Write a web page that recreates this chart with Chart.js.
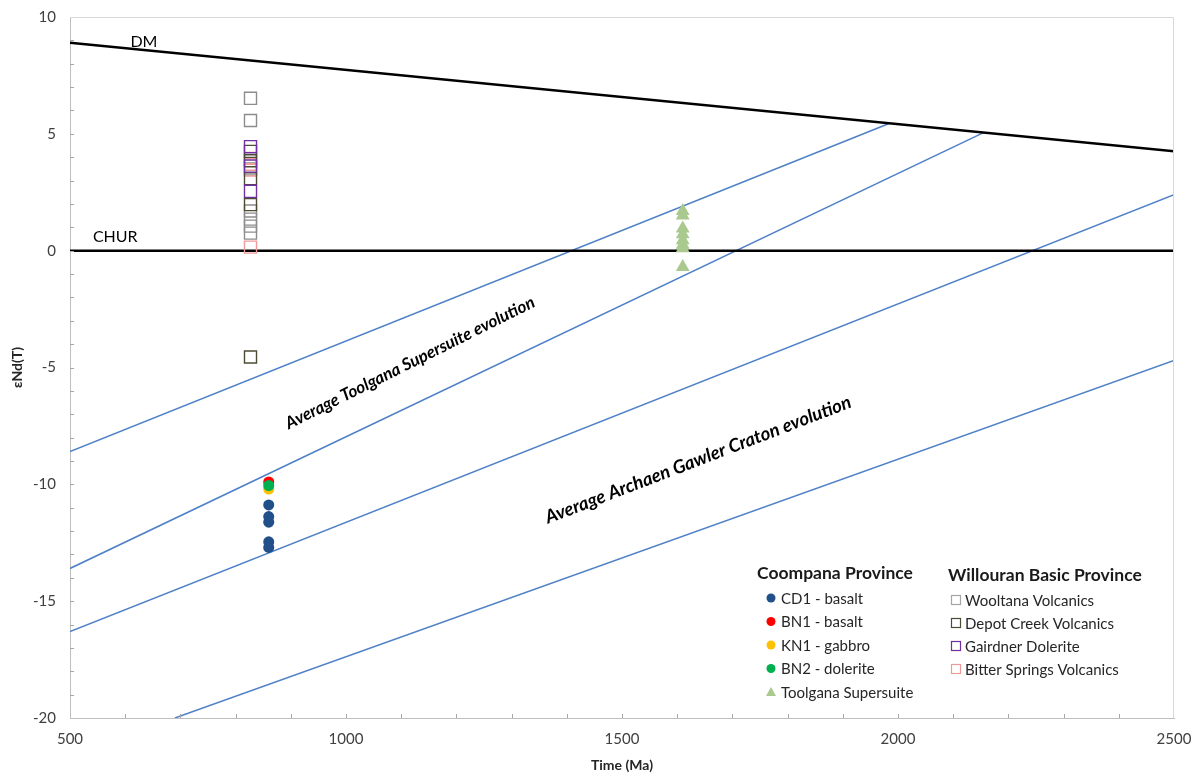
<!DOCTYPE html>
<html>
<head>
<meta charset="utf-8">
<script src="https://cdn.jsdelivr.net/npm/chart.js@4.4.1/dist/chart.umd.min.js"></script>
<style>
  html, body { margin: 0; padding: 0; background: #fff; }
</style>
</head>
<body>
<canvas id="c" width="1194" height="776"></canvas>
<script>
// reference lines (Time in Ma, epsilon Nd)
const dmX = [500, 2500];
const dmY = [8.9, 4.25];
const churX = [500, 2500];
const churY = [0, 0];

// evolution lines
const evoAX = [500, 1985];
const evoAY = [-8.6, 5.45];
const evoBX = [500, 2155];
const evoBY = [-13.6, 5.05];
const evoCX = [500, 2500];
const evoCY = [-16.3, 2.4];
const evoDX = [690, 2500];
const evoDY = [-20, -4.7];

// Willouran Basic Province samples (all ~827 Ma)
const willouranAge = 827;
const wooltana = [6.52, 5.57, 3.5, 1.7, 1.35, 1.05, 0.75];
const depotCreek = [4.25, 3.85, 3.08, 1.97, -4.55];
const gairdner = [4.45, 3.62, 2.54];
const bitterSprings = [3.95, 3.7, 3.45, 0.15];

// Coompana Province samples (~860 Ma)
const coompanaAge = 860;
const cd1 = [-10.88, -11.38, -11.62, -12.46, -12.7];
const bn1 = [-9.9];
const kn1 = [-10.2];
const bn2 = [-10.05];

// Toolgana Supersuite (~1610 Ma)
const toolganaAge = 1610;
const toolgana = [1.7, 1.5, 0.95, 0.7, 0.45, 0.25, 0.1, -0.7];

const xTicks = [500, 1000, 1500, 2000, 2500];
const yTicks = [-20, -15, -10, -5, 0, 5, 10];

const FONT = 'Lato, "Open Sans", sans-serif';

function pts(age, vals) {
  return vals.map(v => ({ x: age, y: v }));
}
function line(xs, ys) {
  return xs.map((x, i) => ({ x: x, y: ys[i] }));
}

function pointSet(label, data, style, color, fill, r) {
  return {
    label: label,
    data: data,
    showLine: false,
    pointStyle: style,
    pointRadius: r,
    pointHoverRadius: r,
    pointBorderColor: color,
    pointBackgroundColor: fill,
    pointBorderWidth: style === 'rect' ? 1.4 : 0
  };
}
function lineSet(label, data, color, w) {
  return {
    label: label,
    data: data,
    showLine: true,
    borderColor: color,
    borderWidth: w,
    pointRadius: 0,
    pointHoverRadius: 0,
    fill: false
  };
}

const blue = '#4f81c7';

const datasets = [
  pointSet('BN2 - dolerite', pts(coompanaAge, bn2), 'circle', '#00b050', '#00b050', 5.5),
  pointSet('BN1 - basalt', pts(coompanaAge, bn1), 'circle', '#ff0000', '#ff0000', 5.5),
  pointSet('KN1 - gabbro', pts(coompanaAge, kn1), 'circle', '#ffc000', '#ffc000', 5.5),
  pointSet('CD1 - basalt', pts(coompanaAge, cd1), 'circle', '#214f8a', '#214f8a', 5.5),
  pointSet('Toolgana Supersuite', pts(toolganaAge, toolgana), 'triangle', '#a9c98e', '#a9c98e', 8),
  pointSet('Gairdner Dolerite', pts(willouranAge, gairdner), 'rect', '#7030a0', 'rgba(0,0,0,0)', 8.5),
  pointSet('Depot Creek Volcanics', pts(willouranAge, depotCreek), 'rect', '#4d4b35', 'rgba(0,0,0,0)', 8.5),
  pointSet('Bitter Springs Volcanics', pts(willouranAge, bitterSprings), 'rect', '#ee9a9a', 'rgba(0,0,0,0)', 8.5),
  pointSet('Wooltana Volcanics', pts(willouranAge, wooltana), 'rect', '#8c8c8c', 'rgba(0,0,0,0)', 8.5),
  lineSet('DM', line(dmX, dmY), '#000', 2.5),
  lineSet('CHUR', line(churX, churY), '#000', 2.5),
  lineSet('evoA', line(evoAX, evoAY), blue, 1.5),
  lineSet('evoB', line(evoBX, evoBY), blue, 1.5),
  lineSet('evoC', line(evoCX, evoCY), blue, 1.5),
  lineSet('evoD', line(evoDX, evoDY), blue, 1.5)
];

// frame, minor ticks, labels and the two-column legend
const extras = {
  id: 'extras',
  afterDraw(chart) {
    const ctx = chart.ctx;
    const a = chart.chartArea;
    const xs = chart.scales.x, ys = chart.scales.y;
    ctx.save();
    // light frame on top and right
    ctx.strokeStyle = '#d9d9d9';
    ctx.lineWidth = 1;
    ctx.beginPath();
    ctx.moveTo(a.left, a.top + 0.5);
    ctx.lineTo(a.right - 0.5, a.top + 0.5);
    ctx.lineTo(a.right - 0.5, a.bottom);
    ctx.stroke();
    // minor ticks, inside
    ctx.strokeStyle = '#a6a6a6';
    ctx.beginPath();
    for (let v = 600; v < 2500; v += 100) {
      const px = Math.round(xs.getPixelForValue(v)) + 0.5;
      ctx.moveTo(px, a.bottom);
      ctx.lineTo(px, a.bottom - 4);
    }
    for (let v = -19; v < 10; v += 1) {
      const py = Math.round(ys.getPixelForValue(v)) + 0.5;
      ctx.moveTo(a.left, py);
      ctx.lineTo(a.left + 4, py);
    }
    ctx.stroke();

    // line labels
    ctx.fillStyle = '#000';
    ctx.textAlign = 'center';
    ctx.textBaseline = 'middle';
    ctx.font = '16px ' + FONT;
    ctx.fillText('DM', xs.getPixelForValue(634), ys.getPixelForValue(8.95));
    ctx.fillText('CHUR', xs.getPixelForValue(582), ys.getPixelForValue(0.6));

    function rotText(txt, x, y, deg, size) {
      ctx.save();
      ctx.translate(xs.getPixelForValue(x), ys.getPixelForValue(y));
      ctx.rotate(deg * Math.PI / 180);
      ctx.font = 'italic bold ' + size + 'px ' + FONT;
      ctx.fillText(txt, 0, 0);
      ctx.restore();
    }
    rotText('Average Toolgana Supersuite evolution', 1116, -4.8, -26.5, 17);
    rotText('Average Archaen Gawler Craton evolution', 1638, -8.95, -21, 18.5);

    // legend
    ctx.textAlign = 'left';
    ctx.fillStyle = '#1a1a1a';
    ctx.font = 'bold 17.5px ' + FONT;
    ctx.fillText('Coompana Province', 757, 573);
    ctx.fillText('Willouran Basic Province', 948, 575);

    ctx.font = '15px ' + FONT;
    const left = [
      ['CD1 - basalt', 'circle', '#214f8a'],
      ['BN1 - basalt', 'circle', '#ff0000'],
      ['KN1 - gabbro', 'circle', '#ffc000'],
      ['BN2 - dolerite', 'circle', '#00b050'],
      ['Toolgana Supersuite', 'triangle', '#a9c98e']
    ];
    left.forEach((it, i) => {
      const y = 598 + i * 23.5;
      ctx.fillStyle = it[2];
      ctx.beginPath();
      if (it[1] === 'circle') {
        ctx.arc(771, y, 4.5, 0, Math.PI * 2);
      } else {
        ctx.moveTo(771, y - 5);
        ctx.lineTo(776, y + 4);
        ctx.lineTo(766, y + 4);
        ctx.closePath();
      }
      ctx.fill();
      ctx.fillStyle = '#262626';
      ctx.fillText(it[0], 781, y + 1);
    });
    const right = [
      ['Wooltana Volcanics', '#a6a6a6'],
      ['Depot Creek Volcanics', '#4d4b35'],
      ['Gairdner Dolerite', '#7030a0'],
      ['Bitter Springs Volcanics', '#ee9a9a']
    ];
    right.forEach((it, i) => {
      const y = 600 + i * 23;
      ctx.strokeStyle = it[1];
      ctx.lineWidth = 1.2;
      ctx.strokeRect(951.5, y - 4.5, 9, 9);
      ctx.fillStyle = '#262626';
      ctx.fillText(it[0], 965, y + 1);
    });
    ctx.restore();
  }
};

new Chart(document.getElementById('c'), {
  type: 'scatter',
  data: { datasets: datasets },
  options: {
    responsive: false,
    animation: false,
    layout: { padding: { top: 17, right: 20, left: 0, bottom: 0 } },
    plugins: {
      legend: { display: false },
      tooltip: { enabled: false }
    },
    scales: {
      x: {
        type: 'linear',
        min: 500,
        max: 2500,
        afterBuildTicks: s => { s.ticks = xTicks.map(v => ({ value: v })); },
        afterFit: s => { s.height = 58; s.paddingLeft = 0; s.paddingRight = 0; },
        ticks: {
          color: '#404040',
          font: { family: FONT, size: 15 },
          padding: 12,
          callback: v => String(v)
        },
        grid: { display: true, drawOnChartArea: false, drawTicks: false },
        border: { color: '#bfbfbf', width: 1 },
        title: {
          display: true,
          text: 'Time (Ma)',
          color: '#262626',
          font: { family: FONT, size: 14, weight: 'bold' },
          padding: { top: 0, bottom: 2 }
        }
      },
      y: {
        type: 'linear',
        min: -20,
        max: 10,
        afterBuildTicks: s => { s.ticks = yTicks.map(v => ({ value: v })); },
        afterFit: s => { s.width = 70; s.paddingTop = 0; s.paddingBottom = 0; },
        ticks: {
          color: '#404040',
          font: { family: FONT, size: 15 },
          padding: 14,
          callback: v => String(v)
        },
        grid: { display: true, drawOnChartArea: false, drawTicks: false },
        border: { color: '#bfbfbf', width: 1 },
        title: {
          display: true,
          text: 'εNd(T)',
          color: '#262626',
          font: { family: FONT, size: 14, weight: 'bold' },
          padding: { top: 9, bottom: 0 }
        }
      }
    }
  },
  plugins: [extras]
});
</script>
</body>
</html>
